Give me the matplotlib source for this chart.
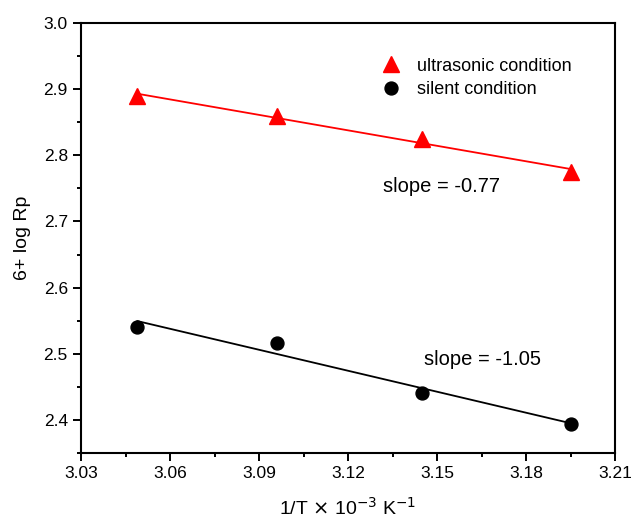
import numpy as np
import matplotlib.pyplot as plt
from matplotlib.ticker import MultipleLocator, AutoMinorLocator

plt.rcParams['font.family'] = ['Liberation Sans', 'DejaVu Sans']

# 1/T (x 10^-3 K^-1)
inv_t = [3.049, 3.096, 3.145, 3.195]
ultrasonic = [2.889, 2.859, 2.825, 2.774]
silent = [2.540, 2.517, 2.441, 2.394]

fig = plt.figure(figsize=(6.32, 5.19), dpi=100)
ax = fig.add_axes([0.1282, 0.1272, 0.8449, 0.8285])

x = np.array(inv_t)
for y, col, mk, ms, lab in [(ultrasonic, 'red', '^', 11.5, 'ultrasonic condition'),
                            (silent, 'black', 'o', 9.3, 'silent condition')]:
    p = np.polyfit(x, y, 1)
    ax.plot(x, np.polyval(p, x), color=col, lw=1.3)
    ax.plot(x, y, mk, color=col, ms=ms, ls='none', label=lab)

ax.text(3.1318, 2.753, 'slope = -0.77', fontsize=14.5, va='center')
ax.text(3.1456, 2.491, 'slope = -1.05', fontsize=14.5, va='center')

ax.set_xlim(3.03, 3.21)
ax.set_ylim(2.35, 3.0)
ax.xaxis.set_major_locator(MultipleLocator(0.03))
ax.yaxis.set_major_locator(MultipleLocator(0.1))
ax.xaxis.set_minor_locator(AutoMinorLocator(2))
ax.yaxis.set_minor_locator(AutoMinorLocator(2))
ax.xaxis.set_major_formatter(plt.FormatStrFormatter('%.2f'))
ax.yaxis.set_major_formatter(plt.FormatStrFormatter('%.1f'))
ax.tick_params(which='major', direction='out', length=6, width=1.4, labelsize=12.5)
ax.tick_params(which='minor', direction='out', length=3, width=1.4)
for s in ax.spines.values():
    s.set_linewidth(1.5)

ax.set_xlabel(r'1/T $\times$ 10$^{-3}$ K$^{-1}$', fontsize=14, labelpad=11)
ax.set_ylabel('6+ log Rp', fontsize=14, labelpad=9)

ax.legend(loc='upper left', bbox_to_anchor=(0.601, 0.889), bbox_transform=fig.transFigure,
          frameon=False, fontsize=13, borderpad=0, borderaxespad=0,
          handletextpad=0.84, labelspacing=0.37, handlelength=1.2)

fig.savefig('out.png', dpi=100)
